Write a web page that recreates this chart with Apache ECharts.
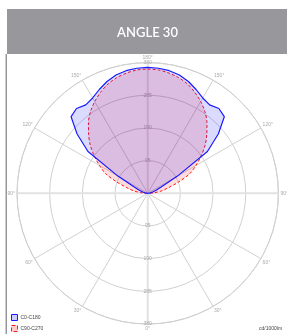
<!DOCTYPE html>
<html><head><meta charset="utf-8">
<script src="https://cdn.jsdelivr.net/npm/echarts@6/dist/echarts.min.js"></script>
<style>html,body{margin:0;padding:0;background:#fff}#c{width:287px;height:334px}</style>
</head><body><div id="c"></div>
<script>
const title = 'ANGLE 30';
const unitLabel = 'cd/1000lm';
const seriesNames = ['C0-C180', 'C90-C270'];
const gammas = [90,95,100,105,110,115,120,125,130,135,140,145,150,155,160,165,170,175,180];
const c0c180 = [0,3,8,15,26,42,100,212,268,315,322,314,320,333,346,356,362,365,366];
const c90c270 = [0,20,42,62,95,135,162,190,218,243,268,290,308,324,338,348,355,360,361];

function loop(vals){
  const d = [];
  for (let i=0;i<gammas.length;i++) d.push([vals[i], gammas[i]]);
  for (let i=gammas.length-2;i>=0;i--) d.push([vals[i], 360-gammas[i]]);
  return d;
}
const center = [147.7, 193.3];
const R = 130.7;
const gridGray = '#d0d0d0';
const chart = echarts.init(document.getElementById('c'), null, {renderer:'canvas'});
chart.setOption({
  animation:false,
  graphic:[
    {type:'rect', shape:{x:7,y:9,width:280,height:45}, style:{fill:'#97979c'}, z:-1},
    {type:'rect', shape:{x:5.5,y:54,width:1.5,height:280}, style:{fill:'#97979c'}, z:-1},
    {type:'text', style:{x:147.5,y:32.5,text:title,fill:'#fff',font:'600 13px Lato',align:'center',verticalAlign:'middle'}},
    {type:'text', style:{x:259,y:328.5,text:unitLabel,fill:'#444',font:'5px "Liberation Sans"',verticalAlign:'middle'}}
  ],
  legend:{
    orient:'vertical', left:11, top:314, itemWidth:6, itemHeight:6, itemGap:4, padding:0,
    textStyle:{fontSize:5, color:'#444', padding:[0,0,0,-2]},
    data:[
      {name:seriesNames[0], icon:'rect', itemStyle:{color:'rgba(0,0,255,0.2)', borderColor:'#1a1aff', borderWidth:1}, lineStyle:{opacity:0}},
      {name:seriesNames[1], icon:'rect', itemStyle:{color:'rgba(255,0,0,0.2)', borderColor:'#ff1a1a', borderWidth:1, borderType:'dashed'}, lineStyle:{opacity:0}}
    ]
  },
  polar:[
    {center:center, radius:R},
    {center:center, radius:R}
  ],
  angleAxis:[
    {polarIndex:0, type:'value', min:0, max:360, interval:30, startAngle:-90, clockwise:true,
     axisLine:{lineStyle:{color:gridGray, width:1}}, axisTick:{show:false},
     axisLabel:{margin:2, fontSize:5, color:'#aaa', formatter:v=> (v<=180? v : 360-v)+'°'},
     splitLine:{lineStyle:{color:gridGray, width:1}}},
    {polarIndex:1, type:'value', min:0, max:360, interval:90, startAngle:90, clockwise:true,
     axisLine:{show:false}, axisTick:{show:false}, axisLabel:{show:false},
     splitLine:{lineStyle:{color:'#e3e3e3', width:2}}}
  ],
  radiusAxis:[
    {polarIndex:0, type:'value', min:0, max:380, interval:95,
     axisLine:{show:false}, axisTick:{show:false},
     axisLabel:{margin:0, fontSize:5, color:'#aaa', align:'center', verticalAlign:'middle', formatter:v=> v===0?'':v},
     splitLine:{lineStyle:{color:gridGray, width:1}}},
    {polarIndex:1, type:'value', min:0, max:380, interval:95,
     axisLine:{show:false}, axisTick:{show:false},
     axisLabel:{margin:0, fontSize:5, color:'#aaa', align:'center', verticalAlign:'middle', formatter:v=> v===0?'':v},
     splitLine:{show:false}}
  ],
  series:[
    {name:seriesNames[1], type:'line', coordinateSystem:'polar', polarIndex:0, data:loop(c90c270),
     symbol:'none', smooth:0.3, lineStyle:{color:'#ff1a1a', width:1, type:[3,2]}, itemStyle:{color:'#ff1a1a'},
     areaStyle:{color:'rgba(255,0,0,0.2)'}, z:3},
    {name:seriesNames[0], type:'line', coordinateSystem:'polar', polarIndex:0, data:loop(c0c180),
     symbol:'none', smooth:false, lineStyle:{color:'#1a1aff', width:1.2}, itemStyle:{color:'#1a1aff'},
     areaStyle:{color:'rgba(0,0,255,0.2)'}, z:4}
  ]
});
</script></body></html>
